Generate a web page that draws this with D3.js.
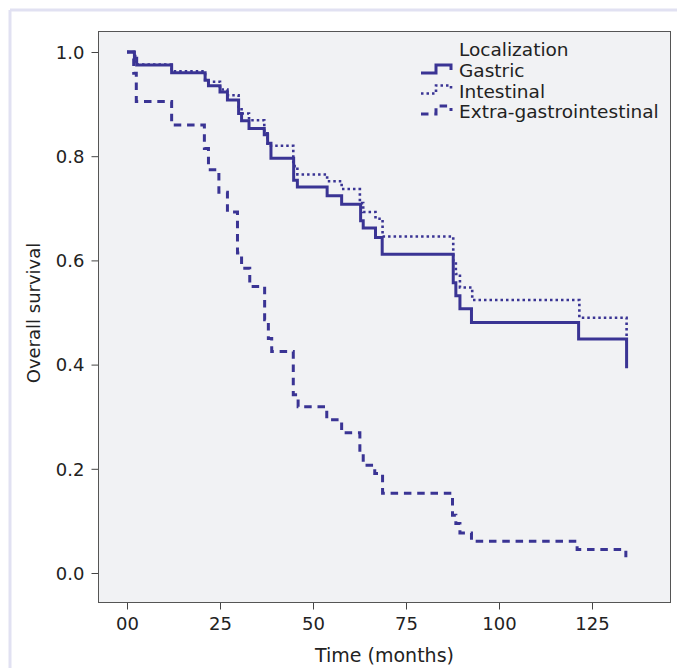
<!DOCTYPE html>
<html>
<head>
<meta charset="utf-8">
<script src="https://cdn.jsdelivr.net/npm/d3@7/dist/d3.min.js"></script>
<style>
  body { margin: 0; background: #fff; }
  svg { display: block; }
  text { font-family: "DejaVu Sans", sans-serif; fill: #222; }
</style>
</head>
<body>
<script>
// Kaplan-Meier steps: time of drop (months), survival after drop
var gastricTime = [0, 2.0, 2.6, 12, 21, 21.9, 25, 27, 30, 30.8, 32.8, 36.9, 37.8, 38.7, 44.8, 45.8, 53.8, 57.7, 62.8, 63.5, 66.8, 68.6, 87.7, 88.4, 89.5, 92.6, 121.4, 134.3];
var gastricSurv = [1.0, 0.988, 0.975, 0.960, 0.946, 0.935, 0.923, 0.908, 0.882, 0.868, 0.853, 0.841, 0.825, 0.796, 0.754, 0.741, 0.724, 0.708, 0.676, 0.662, 0.644, 0.612, 0.557, 0.532, 0.507, 0.481, 0.449, 0.393];

var intestinalTime = [0, 2.2, 12, 21, 25, 27, 30, 30.8, 32.8, 36.9, 37.8, 44.7, 45.8, 53.8, 57.7, 62.6, 63.5, 66.8, 68.7, 87.7, 88.4, 89.5, 92.8, 121.6, 134.3];
var intestinalSurv = [1.0, 0.976, 0.963, 0.943, 0.928, 0.917, 0.895, 0.882, 0.869, 0.844, 0.820, 0.781, 0.765, 0.752, 0.737, 0.710, 0.693, 0.680, 0.646, 0.598, 0.574, 0.548, 0.524, 0.490, 0.438];

var extraTime = [0, 1.8, 2.5, 12, 20.8, 21.9, 24.7, 27, 29.7, 30.8, 33, 37, 38, 38.9, 44.7, 46, 53.7, 57.7, 62.6, 63.5, 66.6, 68.7, 87.5, 88.4, 89.5, 92.6, 121, 134.1];
var extraSurv = [1.0, 0.959, 0.905, 0.860, 0.815, 0.774, 0.731, 0.693, 0.614, 0.585, 0.550, 0.486, 0.450, 0.425, 0.342, 0.319, 0.294, 0.269, 0.230, 0.207, 0.191, 0.153, 0.111, 0.095, 0.077, 0.061, 0.045, 0.030];

var seriesNames = ["Gastric", "Intestinal", "Extra-gastrointestinal"];
var xTicks = [0, 25, 50, 75, 100, 125];
var xTickLabels = ["00", "25", "50", "75", "100", "125"];
var yTicks = [0, 0.2, 0.4, 0.6, 0.8, 1.0];

var W = 677, H = 668;
var box = {left: 98.5, top: 31.5, right: 670.5, bottom: 602.5};
var color = "#3a3494";

var svg = d3.select("body").append("svg")
  .attr("width", W)
  .attr("height", H);

// light outer frame
svg.append("line").attr("x1", 10).attr("x2", W).attr("y1", 10).attr("y2", 10)
  .attr("stroke", "#e1e1f2").attr("stroke-width", 3);
svg.append("line").attr("x1", 10).attr("x2", 10).attr("y1", 10).attr("y2", H)
  .attr("stroke", "#e1e1f2").attr("stroke-width", 3);

// x: 0 -> 127px, 125 -> 592px ; y: 1.0 -> 52px, 0.0 -> 573px
var x = d3.scaleLinear().domain([0, 125]).range([127, 592]);
var y = d3.scaleLinear().domain([0, 1]).range([573, 52]);

svg.append("rect")
  .attr("x", box.left).attr("y", box.top)
  .attr("width", box.right - box.left).attr("height", box.bottom - box.top)
  .attr("fill", "#f1f2f4");

var xAxis = svg.append("g")
  .attr("transform", "translate(0," + box.bottom + ")")
  .call(d3.axisBottom(x).tickValues(xTicks).tickSize(7).tickSizeOuter(0)
    .tickFormat(function(d, i) { return xTickLabels[i]; }));
var yAxis = svg.append("g")
  .attr("transform", "translate(" + box.left + ",0)")
  .call(d3.axisLeft(y).tickValues(yTicks).tickSize(7).tickSizeOuter(0)
    .tickFormat(d3.format(".1f")));

[xAxis, yAxis].forEach(function(g) {
  g.select(".domain").remove();
  g.selectAll(".tick line").attr("stroke", "#444");
  g.selectAll(".tick text").attr("font-size", "18px").attr("fill", "#222")
    .style("font-family", "DejaVu Sans, sans-serif");
});
xAxis.selectAll(".tick text").attr("y", 15);
yAxis.selectAll(".tick text").attr("x", -14).attr("dy", "0.35em");

svg.append("rect")
  .attr("x", box.left).attr("y", box.top)
  .attr("width", box.right - box.left).attr("height", box.bottom - box.top)
  .attr("fill", "none").attr("stroke", "#555").attr("stroke-width", 1);

var stepLine = d3.line()
  .x(function(d) { return x(d[0]); })
  .y(function(d) { return y(d[1]); })
  .curve(d3.curveStepAfter);

var styles = [
  {dash: null, width: 3},
  {dash: "2.5,3", width: 2.6},
  {dash: "7.5,5.8", width: 3}
];
var allSeries = [
  d3.zip(gastricTime, gastricSurv),
  d3.zip(intestinalTime, intestinalSurv),
  d3.zip(extraTime, extraSurv)
];

// draw extra first, then intestinal, then gastric on top
[2, 1, 0].forEach(function(i) {
  svg.append("path")
    .datum(allSeries[i])
    .attr("d", stepLine)
    .attr("fill", "none")
    .attr("stroke", color)
    .attr("stroke-width", styles[i].width)
    .attr("stroke-dasharray", styles[i].dash);
});

// legend
var legend = svg.append("g");
legend.append("text")
  .attr("x", 459).attr("y", 56)
  .attr("font-size", "18.5px")
  .text("Localization");
var rowBase = [77, 97.5, 118];
seriesNames.forEach(function(name, i) {
  var b = rowBase[i];
  legend.append("path")
    .attr("d", "M421," + (b - 4) + "H436V" + (b - 12) + "H451V" + (b - 7))
    .attr("fill", "none")
    .attr("stroke", color)
    .attr("stroke-width", styles[i].width)
    .attr("stroke-dasharray", styles[i].dash);
  legend.append("text")
    .attr("x", 459).attr("y", b)
    .attr("font-size", "18.5px")
    .text(name);
});

// axis titles
svg.append("text")
  .attr("x", (box.left + box.right) / 2).attr("y", 662)
  .attr("text-anchor", "middle")
  .attr("font-size", "19px")
  .text("Time (months)");
svg.append("text")
  .attr("transform", "translate(40,313) rotate(-90)")
  .attr("text-anchor", "middle")
  .attr("font-size", "18px")
  .text("Overall survival");
</script>
</body>
</html>
